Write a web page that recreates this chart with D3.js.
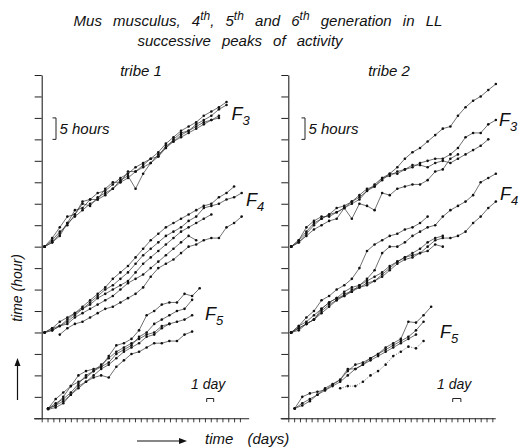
<!DOCTYPE html>
<html>
<head>
<meta charset="utf-8">
<script src="https://cdn.jsdelivr.net/npm/d3@7"></script>
<style>
  body { margin: 0; background: #fff; }
  svg text { font-family: "Liberation Sans", Arial, sans-serif; font-style: italic; fill: #111; }
</style>
</head>
<body>
<div id="chart"></div>
<script>
// ── data: x = day of the peak, y = time (hours) ──────────────────
// tribe 1
const daysT1F3 = [0.5, 1.8, 3.1, 4.4, 5.7, 7, 8.3, 9.6, 10.9, 12.2, 13.5, 14.8, 16.1, 17.4, 18.7, 20, 21.3, 22.6, 23.9, 25.2, 26.5, 27.8, 29.1, 30.4, 31.7]
const tribe1F3 = [
  [40, 42, 44.5, 47, 47.5, 50.5, 51, 52.5, 53, 54.5, 56, 57, 58.5, 59.5, 60.5, 62, 64, 65.5, 67, 68, 69, 70.5, 71.5, 72.5, 73.7],
  [40, 41, 43, 45.5, 48.5, 49, 51, 51, 53.5, 55, 55, 57.5, 57.5, 59, 60.5, 61, 63, 65, 66.5, 67, 68.5, 69.5, 70.5, 72, 73],
  [40, 41.5, 43.5, 45, 47.5, 50, 49.5, 51.5, 52.5, 53.5, 55.5, 56.5, 53.5, 57, 59.5, 61, 63.5, 64.5, 65.5, 66.5, 67.5, 68.5, 69.5, 70.5, null],
  [40, 41, 42.5, 45.5, 47, 48.5, 50, 51, 52, 53.5, 55, 56, 57.5, 58.5, 59.5, 61.5, 63, 64.5, 66, 67, 68, 69, 69.5, 70, null]
]
const daysT1F4 = [0.5, 1.8, 3.1, 4.4, 5.7, 7, 8.3, 9.6, 10.9, 12.2, 13.5, 14.8, 16.1, 17.4, 18.7, 20, 21.3, 22.6, 23.9, 25.2, 26.5, 27.8, 29.1, 30.4, 31.7, 33, 34.3]
const tribe1F4 = [
  [20, 21, 22.5, 23.5, 24.5, 26, 27.5, 29, 30.5, 32.5, 34, 35.5, 37.5, 39.5, 41.5, 43, 44.5, 45.5, 46.5, 47.5, 48.5, 49.5, 50, 51.5, 52.5, 54, null],
  [20, 20.5, 21.5, 23, 24.5, 25.5, 27, 28.5, 30, 31, 32.5, 34, 36, 38, 39.5, 41, 42.5, 43.5, 44.5, 46, 47, 49, 49.5, 50, 51, 51.5, 52.5],
  [null, null, 19.5, 21, 22, 22.5, 23.5, 24.5, 25.5, 26, 27, 28, 29, 30.5, 33, 35, 36, 37, 38.5, 40, 40.5, 41.5, 42, 42, 44.5, 45.5, 47],
  [20, 20.5, 21.5, 22.5, 24, 25.5, 26.5, 28, 29, 30, 31, 32, 34, 36, 37.5, 39, 40.5, 42, 43.5, 44.5, 45.5, 46.5, 47.5, null, null, null, null],
  [20, 21, 21.5, 22, 23.5, 24.5, 25.5, 26.5, 27.5, 28.5, 30, 31.5, 32.5, 33.5, 35, 36.5, 38, 39.5, 41, 42.5, 41.5, null, null, null, null, null, null]
]
const daysT1F5 = [1.1, 2.4, 3.7, 5, 6.3, 7.6, 8.9, 10.2, 11.5, 12.8, 14.1, 15.4, 16.7, 18, 19.3, 20.6, 21.9, 23.2, 24.5, 25.8, 27.1]
const tribe1F5 = [
  [2.3, 3, 5, 7.5, 10, 11, 11.5, 12, 14.5, 17, 17.5, 18.5, 20.5, 24, 25, 26.5, 27, 27, 29, 28.5, 30.3],
  [2.3, 3.5, 4.5, 6, 8, 10, 11, 12, 13, 15, 16, 17, 19, 20, 22, 23, 24, 25, 25.5, 27.6, null],
  [2.3, 3, 4, 5.5, 7, 8.5, 10, 11.5, 12.5, 14, 15.5, 16.5, 17.5, 19, 19.5, 21, 22, 22.5, 23, 24, null],
  [2.1, 2.5, 3.5, 5.5, 7.5, 8.5, 9.5, 10, 9.5, 12, 13.5, 15, 15.5, 16.5, 17.5, 17.5, 18, 18, 19.5, 20.2, null],
  [2.3, 4.5, 6, 7.5, 8.5, 9.5, 11, 12.5, 14, 15.5, 16.5, 17.5, 18.5, 19.5, 20, 21.5, 22, null, null, null, null]
]
// tribe 2
const daysT2F3 = [0.5, 1.8, 3.1, 4.4, 5.7, 7, 8.3, 9.6, 10.9, 12.2, 13.5, 14.8, 16.1, 17.4, 18.7, 20, 21.3, 22.6, 23.9, 25.2, 26.5, 27.8, 29.1, 30.4, 31.7, 33, 34.3, 35.6]
const tribe2F3 = [
  [40, 41.5, 44.5, 46, 47, 47, 48, 49, 50.5, 51.5, 53, 54, 56, 57, 58.5, 60.5, 62, 63, 64.5, 66, 67.5, 68, 70.5, 72.5, 74, 75, 76.5, 77.9],
  [40, 41.5, 43.5, 45.5, 46.5, 47.5, 48, 49, 50, 51, 53, 54.5, 56, 56.5, 57.5, 58, 58.5, 59.5, 60, 60.5, 60.5, 61.5, 63, 65.5, 66.5, 66.5, 68.5, 69.5],
  [40, 41, 43, 45, 46.5, 47.5, 49, 49.5, 50.5, 52, 53.5, 54, 55.5, 57, 57, 58, 59, 59, 58.5, 59.5, 60, 59.5, 60.5, 61.5, 62.5, 63.5, 65, null],
  [40, 41, 42.5, 44, 45, 46, 46.5, 49, 46.5, 50, 49.5, 48.5, 52.5, 52, 53.5, 54, 54.5, 54.5, 55.5, 57.5, 58, 60.5, 61.5, null, null, null, null, null]
]
const daysT2F4 = daysT2F3
const tribe2F4 = [
  [20, 21.5, 23.5, 25, 27.5, 28.5, 30, 31, 32.5, 35, 39, 40.5, 41.5, 42.5, 43, 44, 44.5, 45.5, 47, null, null, null, null, null, null, null, null, null],
  [20, 21, 22, 23, 24.5, 26, 27.5, 28.5, 29.5, 31, 32.5, 34.5, 38.5, 40, 40, 41, 42.5, 43.5, 44.5, 45, 47, 48.5, 49.5, 50.5, 52, 55, 56, 57],
  [20, 21, 22, 23, 25.5, 27, 28, 28.5, 30, 30.5, 31.5, 32, 33.5, 35, 36.5, 37.5, 38, 38.5, 40, 41.5, 42, 42, 42.5, 43.5, 45.5, 47, 49, 50.5],
  [20, 20.5, 22, 23, 25, 26.5, 27.5, 29, 29.5, 30.5, 31, 32, 33, 34.5, 36, 37, 37.5, 38.5, 39, 40.5, 40, null, null, null, null, null, null, null],
  [20, 21.5, 22.5, 24, 25.5, 27, 28, 29.5, 30.5, 31, 32, 33, 34, 35.5, 36.5, 37.5, 38.5, 39.5, 41, 42, 42.5, null, null, null, null, null, null, null]
]
const daysT2F5 = [1.1, 2.4, 3.7, 5, 6.3, 7.6, 8.9, 10.2, 11.5, 12.8, 14.1, 15.4, 16.7, 18, 19.3, 20.6, 21.9, 23.2, 24.5]
const tribe2F5 = [
  [2.3, 5, 5.8, 6.2, 6.6, 7.8, 9, 11, 12.5, 13, 14, 15, 16.5, 17.5, 18.5, 22.5, 22.3, 24, 26],
  [2.3, 3.5, 4.5, 5.5, 7, 8, 9, 11.5, 11.5, 12.5, 14, 15, 16, 17, 18, 19, 20.5, 22.5, null],
  [2.3, 3, 4, 5.5, 6.5, 7.5, 8.5, 10, 11.5, 12.5, 13.5, 14.5, 15.5, 16.5, 17.5, 18.5, 19.5, null, null],
  [null, null, null, null, null, null, 7, 7.5, 7.5, 8.5, 10, 11, 12.5, 14.5, 15.5, 16.7, 16.3, 18, null]
]
const hourTicks = d3.range(0, 81, 5)

// ── layout ───────────────────────────────────────────────────────
const W = 523, H = 448
const DAY = 5.83
const yScale = d3.scaleLinear().domain([0, 80]).range([418.3, 75])

const panels = [
  { x0: 41.7, lastTick: 34, title: 'tribe 1', titleX: 141,
    groups: [
      { days: daysT1F3, series: tribe1F3, dotted: [] },
      { days: daysT1F4, series: tribe1F4, dotted: [] },
      { days: daysT1F5, series: tribe1F5, dotted: [] }],
    labels: [{ n: '3', x: 231.5, y: 120 }, { n: '4', x: 246, y: 206 }, { n: '5', x: 205, y: 320 }],
    bracketX: 56, dayLabelX: 191, dayBr: [28.3, 29.5] },
  { x0: 288.3, lastTick: 35, title: 'tribe 2', titleX: 389,
    groups: [
      { days: daysT2F3, series: tribe2F3, dotted: [] },
      { days: daysT2F4, series: tribe2F4, dotted: [] },
      { days: daysT2F5, series: tribe2F5, dotted: [3] }],
    labels: [{ n: '3', x: 499, y: 126 }, { n: '4', x: 500, y: 200 }, { n: '5', x: 440, y: 338 }],
    bracketX: 305, dayLabelX: 437, dayBr: [28.2, 29.6] }
]

const svg = d3.select('#chart').append('svg')
  .attr('width', W).attr('height', H)

// ── titles ───────────────────────────────────────────────────────
const t1 = svg.append('text').attr('x', 258).attr('y', 26)
  .attr('text-anchor', 'middle').style('font-size', '15px').style('word-spacing', '7px')
t1.append('tspan').text('Mus musculus, 4')
t1.append('tspan').attr('dy', -6).style('font-size', '12px').text('th')
t1.append('tspan').attr('dy', 6).text(', 5')
t1.append('tspan').attr('dy', -6).style('font-size', '12px').text('th')
t1.append('tspan').attr('dy', 6).text(' and 6')
t1.append('tspan').attr('dy', -6).style('font-size', '12px').text('th')
t1.append('tspan').attr('dy', 6).text(' generation  in LL')

svg.append('text').attr('x', 240).attr('y', 46)
  .attr('text-anchor', 'middle').style('font-size', '15px').style('word-spacing', '7px')
  .text('successive peaks of activity')

// ── panels ───────────────────────────────────────────────────────
const line = (x, days) => d3.line()
  .defined(d => d != null)
  .x((d, i) => x(days[i]))
  .y(d => yScale(d))

panels.forEach(p => {
  const xScale = d3.scaleLinear().domain([0, 35.5]).range([p.x0, p.x0 + 35.5 * DAY])
  const g = svg.append('g')

  svg.append('text').attr('x', p.titleX).attr('y', 76)
    .attr('text-anchor', 'middle').style('font-size', '15px').text(p.title)

  // y axis (ticks to the left)
  g.append('g').attr('transform', `translate(${p.x0},0)`)
    .call(d3.axisLeft(yScale).tickValues(hourTicks).tickSize(7).tickSizeOuter(0).tickFormat(''))
    .call(a => a.select('.domain').attr('stroke', '#222').attr('stroke-width', 1.1))
    .call(a => a.selectAll('.tick line').attr('stroke', '#222').attr('stroke-width', 1))

  // x axis (ticks downward, line runs a bit left of the y axis)
  const xAxisScale = d3.scaleLinear().domain([-1.4, 35.5]).range([xScale(-1.4), xScale(35.5)])
  g.append('g').attr('transform', `translate(0,${yScale(0)})`)
    .call(d3.axisBottom(xAxisScale).tickValues(d3.range(0, p.lastTick + 1)).tickSize(4).tickSizeOuter(0).tickFormat(''))
    .call(a => a.select('.domain').attr('stroke', '#222').attr('stroke-width', 1.1))
    .call(a => a.selectAll('.tick line').attr('stroke', '#222').attr('stroke-width', 0.9))

  // series
  p.groups.forEach(grp => {
    grp.series.forEach((vals, si) => {
      g.append('path')
        .attr('d', line(xScale, grp.days)(vals))
        .attr('fill', 'none').attr('stroke', '#333').attr('stroke-width', 0.7)
        .attr('stroke-dasharray', grp.dotted.includes(si) ? '1,1.5' : null)
      g.selectAll(null)
        .data(vals.map((v, i) => [grp.days[i], v]).filter(d => d[1] != null))
        .join('circle')
        .attr('cx', d => xScale(d[0])).attr('cy', d => yScale(d[1]))
        .attr('r', 1.3).attr('fill', '#111')
    })
  })

  // F labels
  p.labels.forEach(l => {
    const t = g.append('text').attr('x', l.x).attr('y', l.y).style('font-size', '18px')
    t.append('tspan').text('F')
    t.append('tspan').attr('dy', 5).style('font-size', '13px').text(l.n)
  })

  // 5 hours bracket
  const by0 = yScale(70), by1 = yScale(65)
  g.append('path')
    .attr('d', `M${p.bracketX - 3.5},${by0}H${p.bracketX}V${by1}H${p.bracketX - 3.5}`)
    .attr('fill', 'none').attr('stroke', '#222').attr('stroke-width', 1)
  g.append('text').attr('x', p.bracketX + 3.5).attr('y', by1 - 5)
    .style('font-size', '15px').text('5 hours')

  // 1 day bracket
  const dx0 = xScale(p.dayBr[0]), dx1 = xScale(p.dayBr[1])
  g.append('path')
    .attr('d', `M${dx0},402V398.5H${dx1}V402`)
    .attr('fill', 'none').attr('stroke', '#222').attr('stroke-width', 1)
  g.append('text').attr('x', p.dayLabelX).attr('y', 389)
    .style('font-size', '14px').text('1 day')
})

// ── axis titles with arrows ──────────────────────────────────────
svg.append('text')
  .attr('transform', 'translate(22,288) rotate(-90)')
  .attr('text-anchor', 'middle').style('font-size', '14px').text('time (hour)')
svg.append('path').attr('d', 'M17.5,400V362').attr('stroke', '#111').attr('stroke-width', 1.2)
svg.append('path').attr('d', 'M14.5,366L17.5,358L20.5,366Z').attr('fill', '#111')

svg.append('text').attr('x', 205).attr('y', 444)
  .style('font-size', '15px').style('word-spacing', '10px').text('time (days)')
svg.append('path').attr('d', 'M137,441H182').attr('stroke', '#111').attr('stroke-width', 1.2)
svg.append('path').attr('d', 'M179,438L187,441L179,444Z').attr('fill', '#111')
</script>
</body>
</html>
